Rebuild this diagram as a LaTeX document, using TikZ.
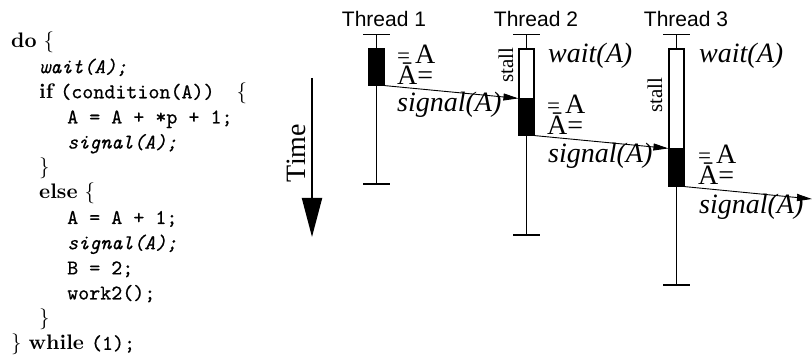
\documentclass[tikz,border=0pt]{standalone}
\usepackage{fontspec}
\newfontfamily\sansf{Liberation Sans}
\newfontfamily\seriff{Liberation Serif}
\newfontfamily\cbf{lmroman10-bold.otf}
\newfontfamily\crm{lmroman10-regular.otf}
\newfontfamily\ctt{lmmono10-regular.otf}[FakeBold=0.5]
\newfontfamily\ctti{lmmono10-italic.otf}[FakeBold=0.5]
\usetikzlibrary{arrows.meta}
\begin{document}
\begin{tikzpicture}[x=1pt,y=-1pt,
  codeline/.style={anchor=base west,inner sep=0pt,font=\crm\fontsize{21}{25}\selectfont},
  threadlbl/.style={anchor=base,inner sep=0pt,font=\sansf\fontsize{21}{21}\selectfont},
  stalllbl/.style={rotate=90,inner sep=0pt,font=\seriff\fontsize{21}{21}\selectfont},
  tlbl/.style={anchor=base west,inner sep=0pt,font=\seriff\fontsize{28}{28}\selectfont},
  itlbl/.style={tlbl,font=\seriff\itshape\fontsize{28}{28}\selectfont},
  blackbar/.style={draw,fill=black,line width=1.2pt,minimum width=15pt,inner sep=0pt},
  whitebar/.style={draw,fill=white,line width=1.2pt,minimum width=15pt,inner sep=0pt},
  tline/.style={line width=1.2pt},
  sig/.style={line width=0.9pt,-{Triangle[length=15pt,width=7pt]}}
]
\useasboundingbox (0,0) rectangle (812,358);

% code
\node[codeline] (c1) at (11,48) {{\cbf do} \{};
\node[codeline] (c2) at (39,73.2) {{\ctti wait(A);}};
\node[codeline] (c3) at (39,98.3) {{\cbf if} {\ctt(condition(A))}\hspace{22pt}\{};
\node[codeline] (c4) at (67,123.5) {{\ctt A = A + *p + 1;}};
\node[codeline] (c5) at (67,148.6) {{\ctti signal(A);}};
\node[codeline] (c6) at (39,173.8) {\}};
\node[codeline] (c7) at (39,198.9) {{\cbf else} \{};
\node[codeline] (c8) at (67,224) {{\ctt A = A + 1;}};
\node[codeline] (c9) at (67,249.2) {{\ctti signal(A);}};
\node[codeline] (c10) at (67,274.4) {{\ctt B = 2;}};
\node[codeline] (c11) at (67,299.5) {{\ctt work2();}};
\node[codeline] (c12) at (39,324.7) {\}};
\node[codeline] (c13) at (11,349.8) {\} {\cbf while} {\ctt(1);}};

% time arrow
\coordinate (timetop) at (312,78);
\coordinate (timetip) at (312,237);
\draw[line width=2pt,-{Triangle[length=39pt,width=20pt]}] (timetop) -- (timetip);
\node[rotate=90,inner sep=0pt,font=\seriff\fontsize{28}{28}\selectfont] (time) at (296,153) {Time};

% thread labels
\node[threadlbl] (th1) at (384,27) {Thread 1};
\node[threadlbl] (th2) at (536,27) {Thread 2};
\node[threadlbl] (th3) at (686,27) {Thread 3};

% thread lines
\coordinate (t1a) at (376.5,34.5); \coordinate (t1b) at (376.5,184);
\coordinate (t2a) at (526.5,34.5); \coordinate (t2b) at (526.5,235);
\coordinate (t3a) at (676.5,34.5); \coordinate (t3b) at (676.5,285);
\draw[tline] (t1a) -- (t1b);
\draw[tline] (t2a) -- (t2b);
\draw[tline] (t3a) -- (t3b);
\draw[tline] ([xshift=-13.5pt]t1a) -- ([xshift=13.5pt]t1a);
\draw[tline] ([xshift=-13.5pt]t1b) -- ([xshift=13.5pt]t1b);
\draw[tline] ([xshift=-13.5pt]t2a) -- ([xshift=13.5pt]t2a);
\draw[tline] ([xshift=-13.5pt]t2b) -- ([xshift=13.5pt]t2b);
\draw[tline] ([xshift=-13.5pt]t3a) -- ([xshift=13.5pt]t3a);
\draw[tline] ([xshift=-13.5pt]t3b) -- ([xshift=13.5pt]t3b);

% bars
\node[blackbar,minimum height=36pt] (b1) at (376.5,67) {};
\node[whitebar,minimum height=50pt] (w2) at (526.5,74) {};
\node[blackbar,minimum height=36pt] (b2) at (526.5,117) {};
\node[whitebar,minimum height=100pt] (w3) at (676.5,99) {};
\node[blackbar,minimum height=37pt] (b3) at (676.5,167.5) {};

% stall labels
\node[stalllbl] (s2) at (506,65) {stall};
\node[stalllbl] (s3) at (655,95) {stall};

% wait labels
\node[itlbl] (wt2) at (548,63) {wait(A)};
\node[itlbl] (wt3) at (699,63) {wait(A)};

% = A labels
\node[tlbl] (e1a) at (397,64) {{\fontsize{23}{23}\selectfont=}\hspace{5pt}A};
\node[tlbl] (e1b) at (397,85) {Ā=};
\node[tlbl] (e2a) at (547,114) {{\fontsize{23}{23}\selectfont=}\hspace{5pt}A};
\node[tlbl] (e2b) at (547,135) {Ā=};
\node[tlbl] (e3a) at (698,164) {{\fontsize{23}{23}\selectfont=}\hspace{5pt}A};
\node[tlbl] (e3b) at (698,185) {Ā=};

% signal arrows
\coordinate (out3) at (812,199);
\draw[sig] (b1.south east) -- (b2.north west);
\draw[sig] (b2.south east) -- (b3.north west);
\draw[sig] (b3.south east) -- (out3);
\node[itlbl] (sg1) at (397,112) {signal(A)};
\node[itlbl] (sg2) at (548,163) {signal(A)};
\node[itlbl] (sg3) at (699,214) {signal(A)};
\end{tikzpicture}
\end{document}
